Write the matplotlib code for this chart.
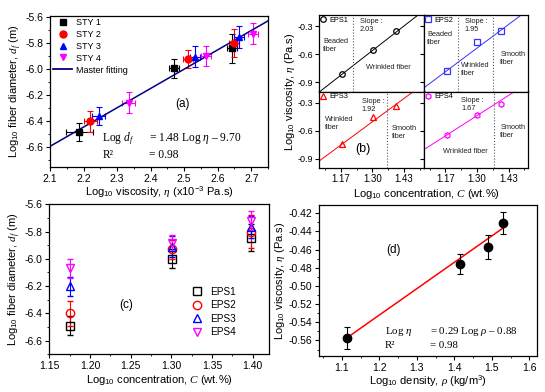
import numpy as np
import matplotlib
matplotlib.use('Agg')
import matplotlib.pyplot as plt
from matplotlib.ticker import MultipleLocator, FixedLocator
from matplotlib.lines import Line2D

plt.rcParams['font.family'] = ['Liberation Sans', 'DejaVu Sans']
plt.rcParams['mathtext.fontset'] = 'custom'
plt.rcParams['mathtext.rm'] = 'Liberation Sans'
plt.rcParams['mathtext.it'] = 'Liberation Serif:italic'
plt.rcParams['axes.unicode_minus'] = False
plt.rcParams['xtick.direction'] = 'out'
plt.rcParams['ytick.direction'] = 'out'
plt.rcParams['xtick.labelsize'] = 7.5
plt.rcParams['ytick.labelsize'] = 7.5
plt.rcParams['axes.labelsize'] = 8
plt.rcParams['axes.linewidth'] = 0.9

# ---- (a) fiber diameter vs viscosity ----
sty_labels = ['STY 1', 'STY 2', 'STY 3', 'STY 4']
sty_visc = [[2.188, 2.470, 2.643], [2.220, 2.512, 2.650],
            [2.245, 2.532, 2.665], [2.335, 2.565, 2.704]]
sty_diam = [[-6.484, -5.994, -5.840], [-6.399, -5.922, -5.800],
            [-6.360, -5.904, -5.755], [-6.257, -5.897, -5.729]]
sty_derr = [[0.07, 0.075, 0.11], [0.08, 0.07, 0.11],
            [0.07, 0.08, 0.085], [0.08, 0.075, 0.08]]
sty_verr = [[0.04, 0.015, 0.015], [0.02, 0.015, 0.015],
            [0.02, 0.015, 0.015], [0.02, 0.015, 0.015]]
master_slope = 1.48
master_icpt = -9.70

# ---- (b) viscosity vs concentration ----
eps_labels = ['EPS1', 'EPS2', 'EPS3', 'EPS4']
conc = [1.176, 1.301, 1.398]
eps_visc = [[-0.81, -0.557, -0.354], [-0.78, -0.47, -0.35],
            [-0.745, -0.455, -0.34], [-0.65, -0.43, -0.31]]
eps_slope = [2.03, 1.95, 1.92, 1.67]
eps_icpt = [-3.20, -3.07, -3.00, -2.61]
eps_borders = [[1.22], [1.224, 1.368], [1.36], [1.37]]
b_ticks = [1.17, 1.30, 1.43]

# ---- (c) fiber diameter vs concentration ----
eps_diam = [[-6.49, -6.00, -5.845], [-6.40, -5.93, -5.80],
            [-6.20, -5.91, -5.765], [-6.07, -5.885, -5.72]]
eps_derr = [[0.07, 0.07, 0.10], [0.09, 0.07, 0.12],
            [0.07, 0.08, 0.08], [0.07, 0.06, 0.07]]

# ---- (d) viscosity vs density ----
dens = [1.114, 1.415, 1.491, 1.531]
dens_visc = [-0.5575, -0.4755, -0.457, -0.431]
dens_err = [0.012, 0.011, 0.013, 0.012]
d_slope = 0.29
d_icpt = -0.88

colors = ['black', 'red', 'blue', 'magenta']
colors_b = ['black', '#3333ff', 'red', 'magenta']   # (b) uses blue for EPS2, red for EPS3
fig = plt.figure(figsize=(5.45, 3.92), dpi=100)

# ======== (a) ========
axa = fig.add_axes([0.0917, 0.574, 0.400, 0.386])
markers_a = ['s', 'o', '^', 'v']
for i in range(4):
    axa.errorbar(sty_visc[i], sty_diam[i], yerr=sty_derr[i], xerr=sty_verr[i],
                 fmt=markers_a[i], color=colors[i], ms=5, elinewidth=0.8,
                 capsize=2.5, capthick=0.8)
xf = np.array([2.1, 2.75])
axa.plot(xf, master_slope * xf + master_icpt, color='#000080', lw=1.1)
axa.set_xlim(2.1, 2.75)
axa.set_ylim(-6.75, -5.59)
axa.xaxis.set_major_locator(MultipleLocator(0.1))
axa.xaxis.set_minor_locator(MultipleLocator(0.05))
axa.yaxis.set_major_locator(MultipleLocator(0.2))
axa.yaxis.set_minor_locator(MultipleLocator(0.1))
axa.set_xlabel(r'Log$_{10}$ viscosity, $\eta$ (x10$^{-3}$ Pa.s)', labelpad=1)
axa.set_ylabel(r'Log$_{10}$ fiber diameter, $d_f$ (m)', labelpad=1)
ha = [Line2D([], [], ls='none', marker=markers_a[i], color=colors[i], ms=5)
      for i in range(4)]
ha.append(Line2D([], [], color='#000080', lw=1.3))
axa.legend(ha, sty_labels + ['Master fitting'], loc='upper left',
           bbox_to_anchor=(0.012, 0.985), frameon=False, fontsize=6.5,
           handlelength=2.2, handletextpad=0.35, labelspacing=0.32,
           borderpad=0, borderaxespad=0)
axa.text(2.495, -6.27, '(a)', fontsize=8.5, ha='center', va='center')
axa.text(2.256, -6.533, r'Log $d_f$', family='Liberation Serif', fontsize=8.3, va='center')
axa.text(2.395, -6.533, r'= 1.48 Log $\eta$ – 9.70', family='Liberation Serif', fontsize=8.3, va='center')
axa.text(2.256, -6.656, 'R²', family='Liberation Serif', fontsize=8.3, va='center')
axa.text(2.395, -6.656, '= 0.98', family='Liberation Serif', fontsize=8.3, va='center')

# ======== (b) ========
bx0, bx1 = 319 / 545, 528 / 545
by0, by1 = 1 - 168 / 392, 1 - 15 / 392
bw = (bx1 - bx0) / 2
bh = (by1 - by0) / 2
markers_b = ['o', 's', '^', 'h']
b_texts = [
    [(1.248, -0.21, 'Slope :\n2.03'), (1.096, -0.43, 'Beaded\nfiber'), (1.275, -0.70, 'Wrinkled fiber')],
    [(1.249, -0.21, 'Slope :\n1.95'), (1.096, -0.35, 'Beaded\nfiber'), (1.234, -0.68, 'Wrinkled\nfiber'),
     (1.396, -0.57, 'Smooth\nfiber')],
    [(1.256, -0.245, 'Slope :\n1.92'), (1.103, -0.44, 'Wrinkled\nfiber'), (1.38, -0.54, 'Smooth\nfiber')],
    [(1.235, -0.235, 'Slope :\n1.67'), (1.396, -0.53, 'Smooth\nfiber'), (1.16, -0.79, 'Wrinkled fiber')],
]
b_axes = []
for i in range(4):
    r, c = divmod(i, 2)
    ax = fig.add_axes([bx0 + c * bw, by1 - (r + 1) * bh, bw, bh])
    b_axes.append(ax)
    xs = np.array([1.08, 1.51])
    ax.plot(xs, eps_slope[i] * xs + eps_icpt[i], color=colors_b[i], lw=0.7)
    ax.plot(conc, eps_visc[i], markers_b[i], mfc='none', mec=colors_b[i], ms=4,
            mew=0.9, label=eps_labels[i])
    for xb in eps_borders[i]:
        ax.axvline(xb, color='#555555', lw=0.8, ls=':')
    for tx, ty, s in b_texts[i]:
        ax.text(tx, ty, s, fontsize=5.3, va='top', ha='left', color='#222222')
    ax.legend(loc='upper left', frameon=False, fontsize=5.3, handlelength=0.6,
              handletextpad=0.6, borderpad=0.15, borderaxespad=0.1)
    ax.set_xlim(1.08, 1.51)
    ax.set_ylim(-1.0, -0.18)
    ax.xaxis.set_major_locator(FixedLocator(b_ticks))
    ax.xaxis.set_minor_locator(MultipleLocator(0.065))
    ax.yaxis.set_major_locator(FixedLocator([-0.3, -0.6, -0.9]))
    if r == 0:
        ax.set_xticklabels([])
    else:
        ax.set_xticklabels(['1.17', '1.30', '1.43'])
    if c == 1:
        ax.set_yticklabels([])
    if i == 2:
        ax.text(1.26, -0.80, '(b)', fontsize=9, ha='center', va='center')
fig.text(0.533, 0.767, r'Log$_{10}$ viscosity, $\eta$ (Pa.s)', rotation=90,
         fontsize=8, ha='center', va='center')
fig.text(0.783, 0.506, r'Log$_{10}$ concentration, $C$ (wt.%)', fontsize=8,
         ha='center', va='center')

# ======== (c) ========
axc = fig.add_axes([0.0905, 0.096, 0.403, 0.383])
markers_c = ['s', 'o', '^', 'v']
for i in range(4):
    axc.errorbar(conc, eps_diam[i], yerr=eps_derr[i], fmt=markers_c[i],
                 mfc='none', mec=colors[i], color=colors[i], ms=6, mew=1.0,
                 elinewidth=0.8, capsize=2.5, capthick=0.8)
axc.set_xlim(1.15, 1.42)
axc.set_ylim(-6.70, -5.60)
axc.xaxis.set_major_locator(MultipleLocator(0.05))
axc.xaxis.set_minor_locator(MultipleLocator(0.025))
axc.yaxis.set_major_locator(MultipleLocator(0.2))
axc.yaxis.set_minor_locator(MultipleLocator(0.1))
axc.set_xlabel(r'Log$_{10}$ concentration, $C$ (wt.%)', labelpad=1)
axc.set_ylabel(r'Log$_{10}$ fiber diameter, $d_f$ (m)', labelpad=1)
hc = [Line2D([], [], ls='none', marker=markers_c[i], mfc='none', mec=colors[i],
             ms=6, mew=1.0) for i in range(4)]
axc.legend(hc, eps_labels, loc='upper left', bbox_to_anchor=(0.65, 0.45),
           frameon=False, fontsize=7.2, handlelength=1.0, handletextpad=0.8,
           labelspacing=0.35, borderpad=0, borderaxespad=0)
axc.text(1.244, -6.337, '(c)', fontsize=8.5, ha='center', va='center')

# ======== (d) ========
axd = fig.add_axes([0.586, 0.092, 0.399, 0.385])
xd = np.array([dens[0], dens[-1]])
axd.plot(xd, d_slope * xd + d_icpt, color='red', lw=1.1)
axd.errorbar(dens, dens_visc, yerr=dens_err, fmt='o', color='black', ms=6,
             elinewidth=0.8, capsize=2.5, capthick=0.8)
axd.set_xlim(1.04, 1.62)
axd.set_ylim(-0.577, -0.411)
axd.xaxis.set_major_locator(MultipleLocator(0.1))
axd.xaxis.set_minor_locator(MultipleLocator(0.05))
axd.yaxis.set_major_locator(MultipleLocator(0.02))
axd.yaxis.set_minor_locator(MultipleLocator(0.01))
axd.set_xlabel(r'Log$_{10}$ density, $\rho$ (kg/m$^3$)', labelpad=1)
axd.set_ylabel(r'Log$_{10}$ viscosity, $\eta$ (Pa.s)', labelpad=1)
axd.text(1.237, -0.461, '(d)', fontsize=8.5, ha='center', va='center')
axd.text(1.215, -0.550, r'Log $\eta$', family='Liberation Serif', fontsize=7.8, va='center')
axd.text(1.335, -0.550, r'= 0.29 Log $\rho$ – 0.88', family='Liberation Serif', fontsize=7.8, va='center')
axd.text(1.215, -0.565, 'R²', family='Liberation Serif', fontsize=7.8, va='center')
axd.text(1.335, -0.565, '= 0.98', family='Liberation Serif', fontsize=7.8, va='center')

for ax in fig.axes:
    ax.tick_params(which='major', length=3, width=0.8, pad=2)
    ax.tick_params(which='minor', length=1.6, width=0.6)
for ax in b_axes:
    ax.tick_params(axis='y', labelsize=6.5, pad=1.5)
    ax.tick_params(axis='x', labelsize=7, pad=1)

fig.savefig('out.png', dpi=100)
